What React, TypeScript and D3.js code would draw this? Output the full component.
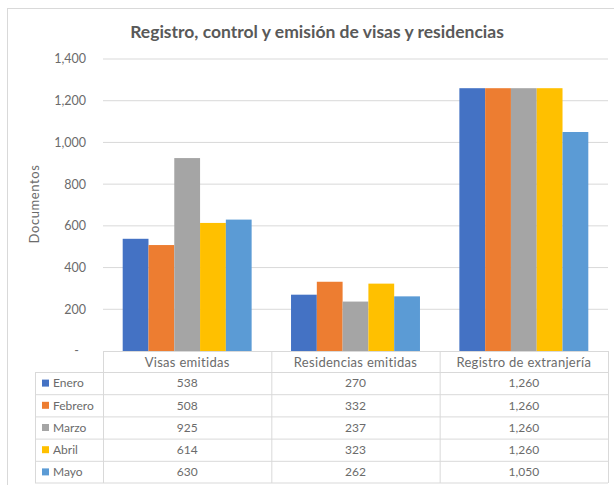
import React from 'react'
import * as d3 from 'd3'

const categories = ['Visas emitidas', 'Residencias emitidas', 'Registro de extranjería']
const months = ['Enero', 'Febrero', 'Marzo', 'Abril', 'Mayo']
const enero = [538, 270, 1260]
const febrero = [508, 332, 1260]
const marzo = [925, 237, 1260]
const abril = [614, 323, 1260]
const mayo = [630, 262, 1050]
const colors = ['#4472C4', '#ED7D31', '#A5A5A5', '#FFC000', '#5B9BD5']
const yTicks = [0, 200, 400, 600, 800, 1000, 1200, 1400]

const series = [enero, febrero, marzo, abril, mayo]

const W = 614
const H = 485
const left = 103
const right = 608
const top = 59
const bottom = 351
const tableLeft = 35
const headerBottom = 372
const rowH = 22.2
const txt = '#6b6b6b'
const grid = '#d9d9d9'
const font = 'Lato, "Open Sans", sans-serif'

const fmt = d3.format(',')

const App = () => {
    const x = d3.scaleBand().domain(categories).range([left, right]).padding(0)
    const step = x.bandwidth()
    const gap = step * 0.117
    const xs = d3
        .scaleBand()
        .domain(months)
        .range([gap, step - gap])
        .padding(0)
    const y = d3.scaleLinear().domain([0, 1400]).range([bottom, top])

    const rowY = (i: number) => headerBottom + i * rowH

    return (
        <div style={{ position: 'absolute', left: 0, top: 0 }}>
            <svg width={W} height={H} style={{ display: 'block', background: '#fff' }} fontFamily={font}>
                {/* chart frame */}
                <rect x={7.5} y={8.5} width={W + 10} height={H + 10} fill='#fff' stroke={grid} />

                <text x={317} y={38} textAnchor='middle' fontSize={17.5} fontWeight='bold' fill='#595959'>
                    Registro, control y emisión de visas y residencias
                </text>

                {/* gridlines and y labels */}
                {yTicks.map(t => (
                    <g key={t}>
                        {t > 0 && <line x1={left} x2={right} y1={y(t)} y2={y(t)} stroke={grid} />}
                        <text x={t === 0 ? 79 : 86} y={y(t)} dy='0.35em' textAnchor='end' fontSize={12.5} fill={txt}>
                            {t === 0 ? '-' : fmt(t)}
                        </text>
                    </g>
                ))}

                <text
                    transform={`translate(39, 204) rotate(-90)`}
                    textAnchor='middle'
                    fontSize={13}
                    letterSpacing={0.6}
                    fill={txt}
                >
                    Documentos
                </text>

                {/* bars */}
                {categories.map((c, ci) => (
                    <g key={c} transform={`translate(${x(c)}, 0)`}>
                        {months.map((m, mi) => (
                            <rect
                                key={m}
                                x={xs(m)}
                                y={y(series[mi][ci])}
                                width={xs.bandwidth()}
                                height={bottom - y(series[mi][ci])}
                                fill={colors[mi]}
                            />
                        ))}
                    </g>
                ))}

                {/* data table */}
                <line x1={left} x2={right} y1={bottom + 0.5} y2={bottom + 0.5} stroke={grid} />
                {months.map((m, i) => (
                    <line key={m} x1={tableLeft} x2={right} y1={rowY(i) + 0.5} y2={rowY(i) + 0.5} stroke={grid} />
                ))}
                <line x1={tableLeft} x2={right} y1={rowY(5)} y2={rowY(5)} stroke={grid} />
                <line x1={tableLeft + 0.5} x2={tableLeft + 0.5} y1={headerBottom} y2={rowY(5)} stroke={grid} />
                {[...categories.map(c => x(c) as number), right].map((v, i) => (
                    <line key={i} x1={v + 0.5} x2={v + 0.5} y1={bottom} y2={rowY(5)} stroke={grid} />
                ))}

                {categories.map(c => (
                    <text
                        key={c}
                        x={(x(c) as number) + step / 2}
                        y={(bottom + headerBottom) / 2 + 1}
                        dy='0.35em'
                        textAnchor='middle'
                        fontSize={13}
                        letterSpacing={0.3}
                        fill={txt}
                    >
                        {c}
                    </text>
                ))}

                {months.map((m, mi) => (
                    <g key={m}>
                        <rect x={tableLeft + 7} y={rowY(mi) + rowH / 2 - 3.5} width={7} height={7} fill={colors[mi]} />
                        <text x={tableLeft + 18} y={rowY(mi) + rowH / 2} dy='0.35em' fontSize={12} fill={txt}>
                            {m}
                        </text>
                        {categories.map((c, ci) => (
                            <text
                                key={c}
                                x={(x(c) as number) + step / 2}
                                y={rowY(mi) + rowH / 2}
                                dy='0.35em'
                                textAnchor='middle'
                                fontSize={12}
                                fill={txt}
                            >
                                {fmt(series[mi][ci])}
                            </text>
                        ))}
                    </g>
                ))}
            </svg>
        </div>
    )
}

export default App
